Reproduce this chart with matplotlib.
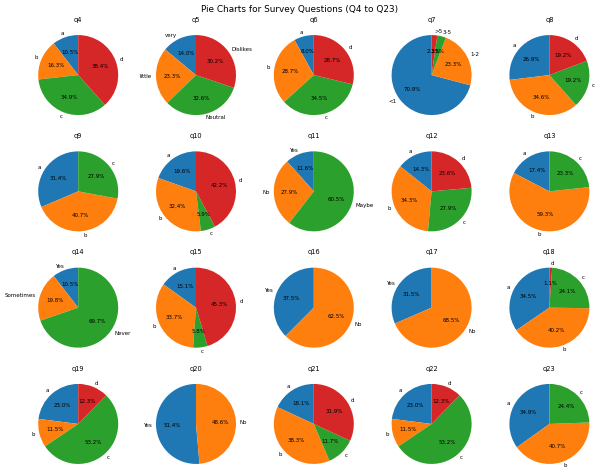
import numpy as np
import matplotlib.pyplot as plt

# percentages per question, in answer order
questions = ['q4', 'q5', 'q6', 'q7', 'q8', 'q9', 'q10', 'q11', 'q12', 'q13',
             'q14', 'q15', 'q16', 'q17', 'q18', 'q19', 'q20', 'q21', 'q22', 'q23']

labels = {
    'q4': ['a', 'b', 'c', 'd'],
    'q5': ['very', 'little', 'Neutral', 'Dislikes'],
    'q6': ['a', 'b', 'c', 'd'],
    'q7': ['<1', '1-2', '3-5', '>5'],
    'q8': ['a', 'b', 'c', 'd'],
    'q9': ['a', 'b', 'c'],
    'q10': ['a', 'b', 'c', 'd'],
    'q11': ['Yes', 'No', 'Maybe'],
    'q12': ['a', 'b', 'c', 'd'],
    'q13': ['a', 'b', 'c'],
    'q14': ['Yes', 'Sometimes', 'Never'],
    'q15': ['a', 'b', 'c', 'd'],
    'q16': ['Yes', 'No'],
    'q17': ['Yes', 'No'],
    'q18': ['a', 'b', 'c', 'd'],
    'q19': ['a', 'b', 'c', 'd'],
    'q20': ['Yes', 'No'],
    'q21': ['a', 'b', 'c', 'd'],
    'q22': ['a', 'b', 'c', 'd'],
    'q23': ['a', 'b', 'c'],
}

values = {
    'q4': [10.5, 16.3, 34.9, 38.4],
    'q5': [14.0, 23.3, 32.6, 30.2],
    'q6': [8.0, 28.7, 34.5, 28.7],
    'q7': [70.9, 23.3, 3.5, 2.3],
    'q8': [26.9, 34.6, 19.2, 19.2],
    'q9': [31.4, 40.7, 27.9],
    'q10': [19.6, 32.4, 5.9, 42.2],
    'q11': [11.6, 27.9, 60.5],
    'q12': [14.3, 34.3, 27.9, 23.6],
    'q13': [17.4, 59.3, 23.3],
    'q14': [10.5, 19.8, 69.8],
    'q15': [15.1, 33.7, 5.8, 45.3],
    'q16': [37.5, 62.5],
    'q17': [31.5, 68.5],
    'q18': [34.5, 40.2, 24.1, 1.1],
    'q19': [23.0, 11.5, 53.3, 12.3],
    'q20': [51.4, 48.6],
    'q21': [18.1, 38.3, 11.7, 31.9],
    'q22': [23.0, 11.5, 53.3, 12.3],
    'q23': [34.9, 40.7, 24.4],
}

fig, axes = plt.subplots(4, 5, figsize=(15, 11.825), dpi=40)
axes = axes.flatten()

for ax, q in zip(axes, questions):
    ax.pie(values[q], labels=labels[q], autopct='%1.1f%%', startangle=90)
    ax.set_title(q)

fig.suptitle('Pie Charts for Survey Questions (Q4 to Q23)', fontsize=16, y=0.99)
plt.subplots_adjust(left=0.047, right=0.999, top=0.947, bottom=-0.002,
                    wspace=0.178, hspace=0.163)
plt.savefig('out.png')
